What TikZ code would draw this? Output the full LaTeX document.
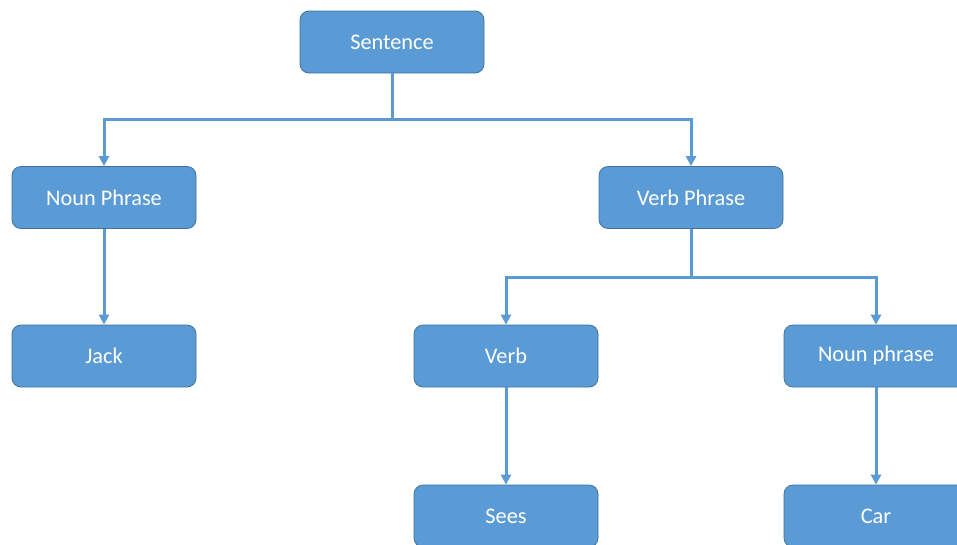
\documentclass[tikz,border=0pt]{standalone}
\usepackage{fontspec}
\setmainfont{Carlito}
\usetikzlibrary{arrows.meta}
\definecolor{boxfill}{HTML}{5B9BD5}
\definecolor{boxline}{HTML}{41719C}
\definecolor{linkcol}{HTML}{5B9BD5}
\begin{document}
\begin{tikzpicture}[x=1pt,y=-1pt,
  treebox/.style={draw=boxline, line width=0.8pt, fill=boxfill, rounded corners=9pt,
    minimum width=184pt, minimum height=62pt, inner sep=0pt,
    text=white, font=\fontsize{22.3}{26}\selectfont},
  link/.style={draw=linkcol, line width=3pt},
  tip/.style={link, -{Triangle[width=10pt,length=10pt]}}]
\useasboundingbox (0,0) rectangle (957,544);
\clip (0,0) rectangle (957,544);
\fill[white] (0,0) rectangle (957,544);
% nodes of the parse tree
\node[treebox] (s)  at (392,42)    {Sentence};
\node[treebox] (np) at (104,197.5) {Noun Phrase};
\node[treebox] (vp) at (691,197.5) {Verb Phrase};
\node[treebox] (j)  at (104,356)   {Jack};
\node[treebox] (v)  at (506,356)   {Verb};
\node[treebox] (np2) at (876,356)  {Noun phrase};
\node[treebox] (se) at (506,516)   {Sees};
\node[treebox] (c)  at (876,516)   {Car};
% branch points
\coordinate (sb) at (392,119);
\coordinate (vb) at (691,277);
% connectors
\draw[link] (s.south) -- (sb);
\draw[tip] (sb) -| (np.north);
\draw[tip] (sb) -| (vp.north);
\draw[tip] (np.south) -- (j.north);
\draw[link] (vp.south) -- (vb);
\draw[tip] (vb) -| (v.north);
\draw[tip] (vb) -| (np2.north);
\draw[tip] (v.south) -- (se.north);
\draw[tip] (np2.south) -- (c.north);
\end{tikzpicture}
\end{document}
